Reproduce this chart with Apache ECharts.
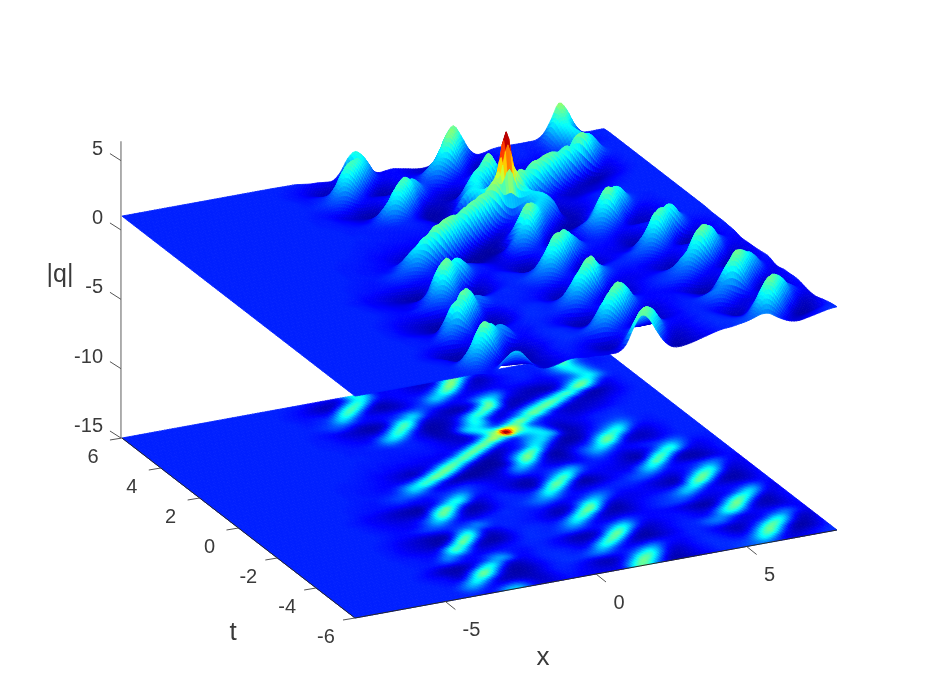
<!DOCTYPE html>
<html>
<head>
<meta charset="utf-8">
<title>|q|</title>
<script src="https://cdn.jsdelivr.net/npm/echarts@6/dist/echarts.min.js"></script>
<style>
html, body { margin: 0; padding: 0; background: #fff; }
#chart-dev { width: 926px; height: 695px; }
</style>
</head>
<body>
<div id="chart-dev"></div>
<script>
var xValues = [-8,-7.75,-7.5,-7.25,-7,-6.75,-6.5,-6.25,-6,-5.75,-5.5,-5.25,-5,-4.75,-4.5,-4.25,-4,-3.75,-3.5,-3.25,-3,-2.75,-2.5,-2.25,-2,-1.75,-1.5,-1.25,-1,-0.75,-0.5,-0.25,0,0.25,0.5,0.75,1,1.25,1.5,1.75,2,2.25,2.5,2.75,3,3.25,3.5,3.75,4,4.25,4.5,4.75,5,5.25,5.5,5.75,6,6.25,6.5,6.75,7,7.25,7.5,7.75,8];
var tValues = [-6,-5.75,-5.5,-5.25,-5,-4.75,-4.5,-4.25,-4,-3.75,-3.5,-3.25,-3,-2.75,-2.5,-2.25,-2,-1.75,-1.5,-1.25,-1,-0.75,-0.5,-0.25,0,0.25,0.5,0.75,1,1.25,1.5,1.75,2,2.25,2.5,2.75,3,3.25,3.5,3.75,4,4.25,4.5,4.75,5,5.25,5.5,5.75,6];

// |q|, one row per t value, one column per x value
var qRows = [
[1,1,1,1,1,1,1,1,1,1,1,1, 1,1,1,1, .95,.9,.85,1.15, 1.9,2.3,2.1,1.4, .8,.55,.55,.65, .8,.85,.8,.75, .75,.7,.7,.75, 1.2,2.4,3.1,2.6, 1.6,.8,.4,.3, .35,.45,.6,.75, .9,1,1.05,1.15, 1.25,1.4,1.5,1.3, 1,.85,.7,.65, .75,.85,.95,1.05, 1.1],
[1,1,1,1,1,1,1,1,1,1,1,1, 1,1,1,1.05, 1.25,1.2,.95,.8, .9,1.2,1.4,1.15, .75,.5,.5,.65, .8,.9,.85,.75, .7,.6,.55,.55, .85,1.6,2.7,3.3, 2.7,1.6,.65,.35, .4,.55,.7,.85, .95,1.05,1.05,1.1, 1.15,1.35,1.8,2.4, 2,1.1,.6,.45, .5,.65,.85,1, 1.05],
[1,1,1,1,1,1,1,1,1,1,1,1, 1,1,1,1.2, 1.6,1.9,1.6,1.05, .75,.55,.5,.45, .4,.4,.5,.65, .85,.95,.95,.85, .7,.55,.4,.35, .45,.85,1.5,2.6, 3.1,2.6,1.5,.65, .45,.5,.7,.85, .95,1.05,1.05,1, .95,1,1.5,2.3, 3,2.6,1.4,.6, .3,.3,.4,.65, .95],
[1,1,1,1,1,1,1,1,1,1,1,1, 1,1,.95,.9, 1.15,1.9,2.6,2.1, 1.2,.6,.35,.3, .3,.35,.5,.7, .9,1,1,.95, .85,.7,.55,.5, .55,.7,.95,1.4, 2,2.5,2,1.1, .65,.6,.75,.9, 1,1.05,1,.9, .75,.65,.8,1.5, 2.6,3.3,2.6,1.3, .5,.25,.35,.55, .85],
[1,1,1,1,1,1,1,1,1,1,1,1, 1,.95,.9,.85, .7,.8,1.8,3, 3,1.9,.8,.35, .25,.3,.4,.6, .8,.95,1.05,1.1, 1.1,1.15,1.3,1.4, 1.3,1.05,.9,.9, 1.1,1.35,1.6,1.35, .95,.8,.75,.85, .95,1,.95,.8, .6,.4,.45,.75, 1.3,2.4,3.2,2.8, 1.6,.7,.35,.45, .7],
[1,1,1,1,1,1,1,1,1,1,1,1, .95,.9,.85,.75, .55,.4,.7,1.8, 3.1,3,1.8,.7, .35,.35,.5,.7, .85,1,1.05,1.05, 1,1,1.2,1.6, 2,1.7,1.1,.75, .65,.6,.7,.8, .8,.8,.85,.9, 1,1,.9,.75, .6,.45,.4,.5, .75,1,1.6,2.4, 2.4,1.4,.65,.5, .65],
[1,1,1,1,1,1,1,1,1,1,1,1, .95,.85,.7,.5, .35,.3,.3,.5, 1.1,2.2,2.7,1.9, .85,.55,.6,.75, .9,1,1.05,1.05, 1,.9,.8,1, 1.9,2.8,2.6,1.6, .75,.4,.3,.25, .35,.5,.65,.8, .95,1,1.05,1.2, 1.3,1.15,.85,.65, .6,.65,.8,1.1, 1.4,1.6,1.3,.85, .7],
[1,1,1,1,1,1,1,1,1,1,1,1, 1,.95,.85,.7, .5,.4,.35,.45, .6,.8,1.2,1.8, 2,1.6,.95,.8, .9,1,1,.95, .9,.8,.65,.6, .8,1.6,2.9,3.2, 2.2,.95,.4,.3, .4,.55,.7,.85, .95,1,1.1,1.35, 1.6,1.7,1.4,.95, .7,.7,.75,.8, .85,.95,.9,.8, .8],
[1,1,1,1,1,1,1,1,1,1,1,1, 1,1,.95,.95, 1,1.1,1.1,.95, .85,.85,1,1.25, 1.4,1.25,.95,.85, .85,.95,1,.9, .8,.65,.45,.35, .35,.5,1.1,2.6, 3.4,2.6,1.2,.5, .4,.5,.65,.8, .9,.95,.9,.85, .95,1.4,2.1,2.5, 2.1,1.2,.7,.5, .45,.45,.55,.7, .9],
[1,1,1,1,1,1,1,1,1,1,1,1, 1,.95,.95,.9, .9,1.2,1.7,1.5, 1,.8,.7,.7, .8,.85,.9,.9, .95,1,1,.95, .85,.75,.55,.4, .35,.4,.6,1.1, 2,2.8,2.4,1.4, .75,.6,.7,.8, .85,.9,.85,.75, .65,.85,1.6,2.6, 3.2,2.7,1.3,.55, .35,.35,.5,.7, .9],
[1,1,1,1,1,1,1,1,1,1,1,1, 1,.95,.95,.9, .85,.85,1.3,2.1, 2.5,1.8,1,.65, .55,.6,.7,.8, .9,1,1.05,1.05, 1.05,1.05,1.1,1.15, 1.05,.9,.85,.9, 1.1,1.45,1.8,1.5, 1.05,.85,.8,.85, .85,.85,.75,.6, .45,.35,.5,1.2, 2.3,3.4,2.9,1.5, .6,.35,.5,.7, .85],
[1,1,1,1,1,1,1,1,1,1,1,1, .95,.9,.85,.8, .75,.7,.8,1.7, 2.9,3,1.9,.75, .35,.3,.3,.45, .7,.9,1.05,1.05, 1,1,1.15,1.4, 1.7,1.5,1.05,.75, .7,.7,.85,1, .95,.85,.8,.8, .8,.75,.65,.5, .35,.25,.3,.5, 1.1,1.9,2.9,2.9, 1.9,.9,.6,.7, .85],
[1,1,1,1,1,1,1,1,1,1,1,1, .95,.9,.8,.7, .6,.5,.4,.35, .9,2.3,3.5,2.5, 1,.4,.3,.4, .6,.85,1,1.05, 1.05,1,1,1.25, 1.8,2.4,2,1.2, .75,.55,.5,.5, .55,.65,.8,.9, 1,1.1,1.15,1.15, 1,.75,.6,.55, .6,.75,1.1,1.8, 2.4,1.9,1,.65, .7],
[1,1,1,1,1,1,1,1,1,1,1,1, .95,.9,.8,.7, .6,.5,.4,.3, .3,.6,2,3.2, 2.6,1.2,.5,.5, .7,.9,.95,1, 1,.95,.85,.85, 1.1,1.9,2.9,2.8, 1.6,.65,.35,.3, .35,.5,.7,.85, .95,1.05,1.15,1.3, 1.4,1.2,.85,.75, .75,.8,.85,.95, 1.2,1.5,1.25,.85, .75],
[1,1,1,1,1,1,1,1,1,1,1,1, .95,.9,.85,.7, .6,.5,.4,.3, .25,.3,.75,1.7, 2.4,1.85,1,.85, .9,1,1,.95, .9,.85,.7,.55, .45,.6,1.4,2.8, 3.5,2.5,.95,.4, .35,.5,.65,.8, .9,1,1.1,1.3, 1.7,2.1,1.8,1.1, .75,.75,.7,.7, .7,.7,.75,.85, .95],
[1,1,1,1,1,1,1,1,1,1,1,1, 1,.95,.9,.85, .8,.75,.7,.7, .75,.8,.9,1.1, 1.3,1.5,1.7,1.4, 1.05,1,1,1, .95,.9,.8,.65, .4,.35,.5,1.1, 2.3,3.2,2.3,1, .55,.55,.65,.7, .75,.8,.85,.9, 1.1,1.7,2.4,2.6, 1.6,.8,.5,.35, .3,.35,.5,.7, .9],
[1,1,1,1,1,1,1,1,1,1,1,1, 1,1,.95,.9, .85,.85,.95,1.1, 1.25,1.3,1.2,1.05, 1,1.05,1.2,1.15, 1.1,1,1,1, 1,.95,.9,.85, .7,.55,.55,.8, 1.3,1.9,2.3,1.9, 1.2,.8,.7,.7, .75,.75,.7,.6, .5,.55,1.1,2.5, 3.4,2.6,1.2,.5, .3,.3,.45,.65, .85],
[1,1,1,1,1,1,1,1,1,1,1,1, 1,1,.95,.9, .85,.8,.75,.8, 1.05,1.5,1.9,1.6, 1.05,.7,.6,.6, .75,.9,1,1.05, 1,1,1.05,1.15, 1.2,1.05,.85,.75, .75,.95,1.35,1.6, 1.45,1.15,.9,.85, .85,.75,.65,.5, .4,.3,.45,1.2, 2.3,3.3,2.9,1.5, .7,.4,.5,.65, .8],
[1,1,1,1,1,1,1,1,1,1,1,1, 1,.95,.9,.85, .8,.75,.7,.75, .9,1.3,2,2.7, 2.3,1.3,.6,.4, .4,.5,.7,.9, 1,1.05,1.15,1.35, 1.6,1.7,1.55,1.15, .9,.85,.85,.95, 1.05,1.05,1,1, 1,1,.9,.75, .65,.5,.5,.7, 1.1,2,2.7,2.7, 1.6,.7,.55,.65, .8],
[1,1,1,1,1,1,1,1,1,1,1,1, 1,.95,.9,.8, .75,.65,.6,.55, .55,.6,1.2,2.6, 3.3,2.5,1.1,.4, .3,.35,.55,.8, .95,1,1,1.05, 1.3,1.9,2.4,1.9, 1.15,.75,.6,.65, .7,.8,.9,1, 1.05,1.2,1.35,1.35, 1.1,.85,.7,.75, .85,1,1.4,1.9, 1.8,1.2,.75,.7, .75],
[1,1,1,1,1,1,1,1,1,1,1,1, .95,.9,.85,.75, .7,.6,.5,.4, .35,.3,.4,1.2, 2.4,3.4,2.7,1.3, .6,.45,.6,.8, .95,1,1,.95, .95,1.3,2.2,3, 2.5,1.3,.6,.35, .3,.4,.55,.7, .85,1,1.2,1.55, 1.9,1.55,1.05,.85, .85,.9,1,1.15, 1.3,1.3,1,.8, .75],
[1,1,1,1,1,1,1,1,1,1,1,1, 1,.95,.9,.8, .75,.65,.55,.45, .35,.3,.25,.45, .75,1.4,2.3,2.9, 2.2,1.1,.7,.75, .9,.95,.85,.7, .55,.45,.75,2, 3.3,3.1,1.6,.55, .3,.4,.55,.7, .75,.75,.8,1.3, 2,2.6,2,1.05, .65,.5,.4,.35, .45,.55,.7,.85, .9],
[1,1,1,1,1,1,1,1,1,1,1,1, 1,1,.95,.9, .9,.85,.85,.8, .8,.75,.7,.75, .75,.9,1.2,1.7, 2.2,1.85,1.15,.9, .85,.8,.7,.55, .35,.3,.4,.8, 1.6,2.6,3.2,2.2, 1,.75,.75,.75, .7,.65,.6,.65, .95,2,3.3,2.7, 1.2,.45,.3,.3, .35,.5,.7,.85, .9],
[1,1,1,1,1,1,1,1,1,1,1,1, 1,1,.95,.95, .9,.9,.9,.95, 1,1.1,1,.9, .85,.9,1,1.1, 1.25,1.4,1.25,1, .9,.8,.7,.6, .5,.35,.4,.65, .95,1.4,2,2.5, 2,1.25,.9,.85, .8,.75,.6,.45, .35,.45,1.5,3, 3,1.6,.7,.45, .5,.6,.75,.9, .95],
[1,1,1,1,1,1,1,1,1,1,1,1, 1,1,1,.95, .95,.9,.9,1, 1.1,1.25,1.4,1.5, 1.35,1.1,.9,.85, .9,1,1.1,1, .85,.75,.65,.65, .75,.85,.85,.85, .9,1,1.15,1.4, 1.7,1.45,1.05,.95, .9,.85,.7,.5, .35,.35,.6,1.2, 2.2,3,2.5,1.4, .8,.65,.75,.85, .95],
[1,1,1,1,1,1,1,1,1,1,1,1, 1,1,1,1, .95,.95,.95,.9, .95,1,1.25,1.7, 2.2,1.9,1.25,.7, .6,.55,.55,.6, .55,.5,.5,.55, .75,1.15,1.5,1.3, 1,.85,.8,.7, .7,.7,.8,.95, 1.15,1.1,.9,.7, .55,.55,.65,.8, 1.1,1.7,2.2,1.8, 1.2,.85,.85,.9, .95],
[1,1,1,1,1,1,1,1,1,1,1,1, 1,1,1,1, .95,.95,.9,.9, .85,.85,1,1.4, 2,2.6,3.1,2.5, 1.3,.6,.3,.2, .2,.2,.3,.4, .6,1,1.7,2.2, 1.8,1.05,.65,.5, .45,.5,.7,1, 1.4,1.7,1.45,1.05, .85,.85,.9,1, 1.05,1.1,1.25,1.4, 1.25,1,.95,.95, .95],
[1,1,1,1,1,1,1,1,1,1,1,1, 1,1,1,1, .95,.95,.9,.9, .85,.8,.75,.75, .8,1.1,1.9,2.9, 3.6,3,1.8,.8, .35,.25,.2,.2, .25,.35,.8,1.9, 3,2.4,1.1,.5, .3,.3,.6,1, 1.4,1.9,2.4,2, 1.15,.75,.6,.55, .55,.6,.75,.9, 1,1,1,1, 1],
[1,1,1,1,1,1,1,1,1,1,1,1, 1,1,1,1, .95,.95,.95,.9, .9,.85,.8,.7, .6,.5,.5,.8, 1.9,3,3.5,2.8, 1.5,.6,.3,.25, .2,.3,.7,1.5, 2.6,3.5,2.5,.95, .35,.3,.45,.7, .95,1.2,2,3, 2.9,1.6,.65,.45, .4,.45,.6,.8, .9,1,1,1, 1],
[1,1,1,1,1,1,1,1,1,1,1,1, 1,1,1,1, 1,.95,.95,.95, .9,.85,.8,.7, .6,.5,.4,.5, .6,1.1,2.2,3.2, 3.3,2.3,1.2,.5, .3,.3,.4,.8, 1.4,2.3,3.2,2.7, 1.2,.55,.35,.35, .45,.7,1.2,2.2, 3.2,3,1.7,.8, .5,.5,.6,.8, .9,1,1,1, 1],
[1,1,1,1,1,1,1,1,1,1,1,1, 1,1,1,1, 1,1,1,.95, .95,.9,.85,.85, .8,.75,.7,.65, .65,.7,.8,1.2, 2.2,3.1,3.4,2.4, 1.1,.5,.4,.5, .7,.9,1.5,2.3, 2.2,1.2,.55,.3, .25,.3,.6,1.1, 1.8,2.5,2.9,2.2, 1.1,.75,.7,.8, .9,.95,1,1, 1],
[1,1,1,1,1,1,1,1,1,1,1,1, 1,1,1,1, 1,1,1,1, .95,.95,.9,.9, .85,.85,.8,.8, .8,.75,.75,.7, .75,1.1,2.2,3.3, 3.4,2.2,1,.6, .75,.9,1.2,1.8, 2.2,2.3,1.5,.6, .35,.35,.5,.8, 1,1.4,1.9,2.3, 1.8,1.1,.9,.9, .95,1,1,1, 1],
[1,1,1,1,1,1,1,1,1,1,1,1, 1,1,1,1, 1,1,1,1, 1,.95,.95,.95, .9,.9,.9,.9, .85,.85,.85,.85, .8,.8,.85,1.3, 2.4,3.5,3.4,2, 1,.8,.95,1.4, 1.8,2.1,2.3,2, .8,.35,.4,.6, .85,1.05,1.25,1.4, 1.5,1.25,1.05,.95, .95,1,1,1, 1],
[1,1,1,1,1,1,1,1,1,1,1,1, 1,1,1,1, 1,1,1,1, 1,1,.95,.95, .95,.95,.9,.9, .9,.9,.9,.9, .85,.8,.7,.65, .7,1.2,2.5,3.7, 3.8,2.4,1.7,1.8, 2,2.3,2.2,1.3, .6,.4,.5,.6, .75,.9,1,1.1, 1.15,1.1,1,1, 1,1,1,1, 1],
[1,1,1,1,1,1,1,1,1,1,1,1, 1,1,1,1, 1,1,1,1, 1,1,1,1, .95,.95,.95,.95, .95,.95,.95,.9, .85,.75,.65,.55, .5,.5,.8,1.6, 3,4.4,8.2,4.4, 3,2.3,1.7,1, .6,.5,.6,.7, .8,.9,1,1, 1.05,1.05,1,1, 1,1,1,1, 1],
[1,1,1,1,1,1,1,1,1,1,1,1, 1,1,1,1, 1,1,1,1, 1,1,.95,.95, .95,.95,.95,.95, 1,1,1,.95, .85,.75,.5,.45, .45,.7,1.4,2.2, 2.6,2.5,2.8,3.9, 3.4,2.2,1.2,.95, .8,.7,.65,.6, .6,.7,.8,.9, .95,1,1,1, 1,1,1,1, 1],
[1,1,1,1,1,1,1,1,1,1,1,1, 1,1,1,1, 1,1,1,1, 1,1,.95,.95, .95,1,1.1,1.3, 1.5,1.3,1.05,.9, .75,.55,.35,.35, .55,1.3,2.3,2.4, 2,1.3,1,1.3, 2.5,3.6,3.2,2, 1.15,.85,.7,.6, .5,.5,.55,.6, .7,.8,.9,.95, 1,1,1,1, 1],
[1,1,1,1,1,1,1,1,1,1,1,1, 1,1,1,1, 1,1,1,1, 1,.95,.95,.9, .85,.85,.9,1.3, 2,2.4,2,1.2, .75,.5,.3,.3, .4,.7,1.3,2.1, 2.5,2,1,.75, .85,1.3,2.2,3.2, 3.3,2.2,1.05,.6, .45,.4,.45,.5, .55,.65,.8,.9, .95,1,1,1, 1],
[1,1,1,1,1,1,1,1,1,1,1,1, 1,1,1,1, 1,1,1,1, .95,.95,.9,.85, .8,.7,.7,.85, 1.2,2,2.9,2.5, 1.3,.6,.3,.25, .3,.45,.8,1.6, 2.5,2.2,1.2,.65, .6,.85,1.2,1.9, 2.7,3.3,3.3,2.4, 1.2,.65,.45,.4, .4,.45,.6,.75, .85,.95,1,1, 1],
[1,1,1,1,1,1,1,1,1,1,1,1, 1,1,1,1, 1,1,1,1, .95,.95,.9,.8, .7,.6,.5,.45, .45,.85,1.9,3, 2.9,1.7,.6,.35, .35,.4,.6,1, 1.8,2.9,3.1,2, .8,.45,.4,.6, 1.1,1.7,2.6,3.3, 3.2,2.2,1,.55, .35,.3,.4,.55, .7,.85,.95,1, 1],
[1,1,1,1,1,1,1,1,1,1,1,1, 1,1,1,1, 1,1,1,1, .95,.9,.85,.75, .6,.5,.4,.3, .25,.3,.6,1.6, 2.8,2.8,1.6,.7, .5,.45,.4,.4, .5,.9,2.1,3.4, 3,1.5,.55,.35, .35,.5,.8,1.2, 2,3,3.4,2.4, 1.1,.5,.35,.45, .65,.85,.95,1, 1],
[1,1,1,1,1,1,1,1,1,1,1,1, 1,1,1,1, 1,1,1,1, 1,.95,.95,1, 1.15,1,.75,.5, .45,.5,.65,.95, 1.3,1.8,2.4,1.9, 1,.65,.45,.35, .3,.4,.65,1.6, 3.1,2.5,1,.5, .4,.4,.4,.5, .5,.75,1.5,2.6, 3.5,2.9,1.7,.85, .7,.85,.95,1, 1],
[1,1,1,1,1,1,1,1,1,1,1,1, 1,1,1,1, 1,1,1,1, 1,1,1.05,1.15, 1.3,1.5,1.4,1.1, .9,.8,.8,.85, .95,1.2,1.45,1.6, 1.4,1.05,.85,.75, .65,.75,1,1.6, 2.1,2.3,1.9,1, .65,.45,.35,.3, .3,.4,.65,1.3, 2.2,3.1,2.9,1.7, .95,.9,.95,1, 1],
[1,1,1,1,1,1,1,1,1,1,1,1, 1,1,1,1, 1,1,1,1, 1,.95,.95,1, 1.15,1.7,2.3,1.9, 1.1,.8,.7,.65, .6,.6,.7,.85, 1.1,1.3,1.5,1.35, 1,.8,.75,.85, 1.1,1.35,1.5,1.25, .85,.7,.6,.55, .55,.6,.7,.95, 1.3,1.7,2.2,2.5, 1.9,1.2,1,1, 1],
[1,1,1,1,1,1,1,1,1,1,1,1, 1,1,1,1, 1,1,1,1, 1,.95,.9,.95, 1,1.1,1.9,2.9, 2.6,1.4,.6,.4, .3,.35,.45,.65, .85,1.1,1.7,2.3, 2.1,1.4,.9,.7, .7,.7,.75,.8, .8,.85,.85,.85, .8,.75,.8,.95, 1.15,1.6,2.2,2.1, 1.55,1.1,1,1, 1],
[1,1,1,1,1,1,1,1,1,1,1,1, 1,1,1,1, 1,1,1,1, .95,.9,.85,.8, .75,.7,.9,1.9, 3,3,1.9,.8, .4,.4,.55,.7, .85,.9,1.05,1.5, 2.3,3,2.3,1.1, .6,.5,.55,.7, .8,.9,.95,.95, .95,.85,.95,1.2, 1.6,2.1,2.4,2, 1.35,1,1,1, 1],
[1,1,1,1,1,1,1,1,1,1,1,1, 1,1,1,1, 1,1,1,1, .95,.9,.85,.7, .55,.4,.35,.6, 1.4,2.5,3,2.2, 1.1,.7,.7,.8, .8,.75,.7,.8, 1.3,2.4,3.5,2.8, 1.2,.55,.4,.45, .65,.8,.9,1, 1,.95,.95,1.15, 1.7,2.3,2.4,1.8, 1.2,.95,.9,.95, 1],
[1,1,1,1,1,1,1,1,1,1,1,1, 1,1,1,1, 1,1,1,1, 1,.95,.9,.85, .7,.55,.45,.4, .5,.95,1.9,2.5, 2,1.15,.8,.8, .8,.7,.6,.5, .55,.95,2.4,3.5, 2.8,1.2,.55,.55, .75,.9,1,1, 1,.95,1,1.2, 1.9,2.8,2.9,1.9, 1.2,.95,.95,1, 1],
[1,1,1,1,1,1,1,1,1,1,1,1, 1,1,1,1, 1,1,1,1, 1,1,1,1, .95,.9,.9,.85, .85,1.4,2.3,2.6, 2.1,1.1,.75,.8, .85,.75,.65,.55, .5,.6,1.1,2.3, 3.2,2.6,1.5,.85, .8,.95,1,1, 1,1,1,1, 1.3,2.2,3.5,3.1, 1.9,1.1,.95,.95, .95]
];

var xTicks = [-5, 0, 5];
var tTicks = [6, 4, 2, 0, -2, -4, -6];
var zTicks = [5, 0, -5, -10, -15];

// view of the box: screen position of x=-8, t=-6, z=-15 and the step per unit
var view = { ox: 355, oy: 618, xdx: 30.125, xdy: -5.5, tdx: -19.42, tdy: -15, zdy: -13.87 };
var xMin = -8, tMin = -6, zFloor = -15, zTop = 6.4;
var colorMax = 6.4;
var cellSteps = 3; // shading steps inside one data cell

var textColor = '#3a3a3a';
var fontName = '"Liberation Sans", Arial, sans-serif';

function project(x, t, z) {
    var a = x - xMin, b = t - tMin, c = z - zFloor;
    return [view.ox + a * view.xdx + b * view.tdx, view.oy + a * view.xdy + b * view.tdy + c * view.zdy];
}

function jet(v) {
    var s = Math.max(0, Math.min(1, v));
    var r = Math.min(4 * s - 1.5, -4 * s + 4.5);
    var g = Math.min(4 * s - 0.5, -4 * s + 3.5);
    var b = Math.min(4 * s + 0.5, -4 * s + 2.5);
    function c(k) { return Math.round(255 * Math.max(0, Math.min(1, k))); }
    return 'rgb(' + c(r) + ',' + c(g) + ',' + c(b) + ')';
}

function cubic(p0, p1, p2, p3, f) {
    return p1 + 0.5 * f * (p2 - p0 + f * (2 * p0 - 5 * p1 + 4 * p2 - p3 + f * (3 * (p1 - p2) + p3 - p0)));
}

function rowAt(j, i) {
    var r = qRows[Math.max(0, Math.min(qRows.length - 1, j))];
    return r[Math.max(0, Math.min(r.length - 1, i))];
}

// smooth shading of the typed values, like shading interp on a surface
var nCols = (xValues.length - 1) * cellSteps + 1;
var nRows = (tValues.length - 1) * cellSteps + 1;
var shade = [];
for (var jj = 0; jj < nRows; jj++) {
    var line = [];
    var j0 = Math.min(Math.floor(jj / cellSteps), tValues.length - 2), fj = jj / cellSteps - j0;
    for (var ii = 0; ii < nCols; ii++) {
        var i0 = Math.min(Math.floor(ii / cellSteps), xValues.length - 2), fi = ii / cellSteps - i0;
        var col = [];
        for (var k = -1; k <= 2; k++) {
            col.push(cubic(rowAt(j0 + k, i0 - 1), rowAt(j0 + k, i0), rowAt(j0 + k, i0 + 1), rowAt(j0 + k, i0 + 2), fi));
        }
        line.push(Math.max(0, cubic(col[0], col[1], col[2], col[3], fj)));
    }
    shade.push(line);
}

// take the stair steps of the data grid out of the diagonal ridges
function easeAlongT() {
    var next = [];
    for (var j = 0; j < nRows; j++) {
        var up = shade[Math.max(0, j - 1)], me = shade[j], dn = shade[Math.min(nRows - 1, j + 1)];
        var out = [];
        for (var i = 0; i < nCols; i++) {
            out.push((up[i] + 2 * me[i] + dn[i]) / 4);
        }
        next.push(out);
    }
    shade = next;
}
easeAlongT();
easeAlongT();
easeAlongT();

// back cells first so nearer humps paint over them
var cells = [];
for (var cj = nRows - 2; cj >= 0; cj--) {
    for (var ci = nCols - 2; ci >= 0; ci--) {
        cells.push([ci, cj]);
    }
}

function fineX(i) { return xMin + (i / cellSteps) * (xValues[1] - xValues[0]); }
function fineT(j) { return tMin + (j / cellSteps) * (tValues[1] - tValues[0]); }

function cellRenderer(onFloor) {
    return function (params, api) {
        var i = api.value(0), j = api.value(1);
        var corners = [[i, j], [i + 1, j], [i + 1, j + 1], [i, j + 1]];
        var pts = [], sum = 0;
        for (var n = 0; n < 4; n++) {
            var v = shade[corners[n][1]][corners[n][0]];
            sum += v;
            pts.push(api.coord(project(fineX(corners[n][0]), fineT(corners[n][1]), onFloor ? zFloor : v)));
        }
        var color = jet(sum / 4 / colorMax);
        return {
            type: 'polygon',
            shape: { points: pts },
            style: { fill: color, stroke: color, lineWidth: 0.8 },
            silent: true
        };
    };
}

function segment(api, a, b, color, width) {
    var p = api.coord(a), q = api.coord(b);
    return {
        type: 'line',
        shape: { x1: p[0], y1: p[1], x2: q[0], y2: q[1] },
        style: { stroke: color, lineWidth: width }
    };
}

function label(api, pos, str, size, align) {
    var p = api.coord(pos);
    return {
        type: 'text',
        style: {
            x: p[0], y: p[1], text: str, fill: textColor,
            font: size + 'px ' + fontName,
            align: align || 'center', verticalAlign: 'middle'
        }
    };
}

function boxRenderer(params, api) {
    var kids = [];
    var zBase = project(xMin, 6, zFloor);
    var zEnd = project(xMin, 6, zTop);
    zBase[0] -= 1; zEnd[0] -= 1;
    kids.push(segment(api, zBase, zEnd, '#8c8c8c', 1.4));
    kids.push(segment(api, project(xMin, 6, zFloor), project(xMin, tMin, zFloor), '#262626', 1));
    kids.push(segment(api, project(xMin, tMin, zFloor), project(8, tMin, zFloor), '#262626', 1));
    zTicks.forEach(function (z) {
        var p = project(xMin, 6, z);
        p[0] -= 1;
        kids.push(segment(api, p, [p[0] - 11, p[1] - 7], '#555555', 1));
        kids.push(label(api, [103, p[1] - 11.5], String(z), 20, 'right'));
    });
    tTicks.forEach(function (t) {
        var p = project(xMin, t, zFloor);
        kids.push(segment(api, p, [p[0] - 12, p[1] + 2], '#555555', 1));
        kids.push(label(api, [p[0] - 29, p[1] + 19.5], String(t), 20));
    });
    xTicks.forEach(function (x) {
        var p = project(x, tMin, zFloor);
        kids.push(segment(api, p, [p[0] + 10, p[1] + 8], '#555555', 1));
        kids.push(label(api, [p[0] + (x < 0 ? 26 : 23), p[1] + 29], String(x), 20));
    });
    kids.push(label(api, [60, 275], '|q|', 25));
    kids.push(label(api, [233, 633], 't', 26));
    kids.push(label(api, [543, 658], 'x', 26));
    return { type: 'group', children: kids };
}

var dom = document.getElementById('chart-dev');
var myChart = echarts.init(dom, null, {
    renderer: 'canvas',
    useDirtyRect: false
});

var option = {
    animation: false,
    backgroundColor: '#ffffff',
    grid: { left: 0, right: 0, top: 0, bottom: 0 },
    xAxis: { type: 'value', min: 0, max: 926, show: false },
    yAxis: { type: 'value', min: 0, max: 695, inverse: true, show: false },
    series: [
        {
            name: 'floor',
            type: 'custom',
            coordinateSystem: 'cartesian2d',
            renderItem: cellRenderer(true),
            data: cells,
            clip: false,
            progressive: 0,
            silent: true
        },
        {
            name: 'box',
            type: 'custom',
            coordinateSystem: 'cartesian2d',
            renderItem: boxRenderer,
            data: [[0, 0]],
            clip: false,
            silent: true
        },
        {
            name: '|q|',
            type: 'custom',
            coordinateSystem: 'cartesian2d',
            renderItem: cellRenderer(false),
            data: cells,
            clip: false,
            progressive: 0,
            silent: true
        }
    ]
};

myChart.setOption(option);

window.addEventListener('resize', myChart.resize);
</script>
</body>
</html>
